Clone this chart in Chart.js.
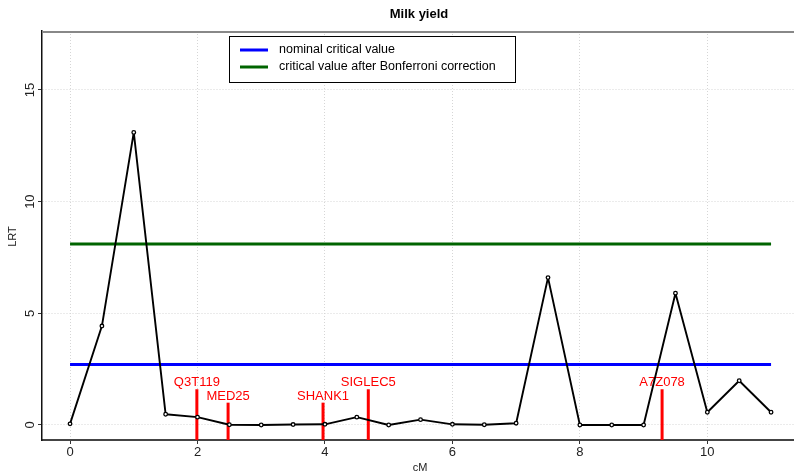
<!DOCTYPE html>
<html><head><meta charset="utf-8">
<style>html,body{margin:0;padding:0;background:#fff}canvas{display:block}</style>
<script src="https://cdn.jsdelivr.net/npm/chart.js@4.4.1/dist/chart.umd.min.js"></script>
</head><body>
<canvas id="c" width="794" height="475" style="width:794px;height:475px"></canvas>
<script>
const chartTitle = 'Milk yield';
const xTitle = 'cM';
const yTitle = 'LRT';
const positions = [0, 0.5, 1, 1.5, 2, 2.5, 3, 3.5, 4, 4.5, 5, 5.5, 6, 6.5, 7, 7.5, 8, 8.5, 9, 9.5, 10, 10.5, 11];
const lrt = [0.05, 4.43, 13.1, 0.48, 0.35, 0.01, 0.0, 0.02, 0.03, 0.35, 0.0, 0.24, 0.03, 0.01, 0.08, 6.6, 0.0, 0.0, 0.0, 5.9, 0.57, 1.98, 0.57];
const nominalCritical = 2.71;
const bonferroniCritical = 8.1;
const thresholdRange = [0, 11];
const markerNames = ['Q3T119', 'MED25', 'SHANK1', 'SIGLEC5', 'A7Z078'];
const markerPos = [1.99, 2.48, 3.97, 4.68, 9.29];
const markerHeight = [1.6, 1.0, 1.0, 1.6, 1.6];
const xTicks = [0, 2, 4, 6, 8, 10];
const yTicks = [0, 5, 10, 15];
const xMin = -0.44, xMax = 11.36, yMin = -0.672, yMax = 17.64;

const FONT = "'Liberation Sans', Arial, Helvetica, sans-serif";
Chart.defaults.font.family = FONT;

const datasets = [];
datasets.push({
  label: 'LRT', data: positions.map((x, i) => ({x: x, y: lrt[i]})),
  showLine: true, borderColor: '#000', borderWidth: 1.9, tension: 0, borderJoinStyle: 'round',
  pointRadius: 1.8, pointBorderWidth: 1.3, pointBackgroundColor: '#fff', pointBorderColor: '#000'
});
markerNames.forEach((n, i) => {
  datasets.push({
    label: n, data: [{x: markerPos[i], y: yMin}, {x: markerPos[i], y: markerHeight[i]}],
    showLine: true, borderColor: '#ff0000', borderWidth: 3, pointRadius: 0
  });
});
datasets.push({
  label: 'nominal critical value', legend: true,
  data: thresholdRange.map(x => ({x: x, y: nominalCritical})),
  showLine: true, borderColor: '#0000ff', borderWidth: 3, pointRadius: 0
});
datasets.push({
  label: 'critical value after Bonferroni correction', legend: true,
  data: thresholdRange.map(x => ({x: x, y: bonferroniCritical})),
  showLine: true, borderColor: '#006400', borderWidth: 3, pointRadius: 0
});

const decor = {
  id: 'decor',
  beforeDatasetsDraw(chart) {
    const c = chart.ctx, xs = chart.scales.x, ys = chart.scales.y;
    c.save();
    c.fillStyle = '#ff0000';
    c.font = '13px ' + FONT;
    c.textAlign = 'center';
    c.textBaseline = 'alphabetic';
    markerNames.forEach((n, i) => {
      c.fillText(n, xs.getPixelForValue(markerPos[i]), ys.getPixelForValue(markerHeight[i]) - 3);
    });
    c.restore();
  },
  afterDraw(chart) {
    const c = chart.ctx, a = chart.chartArea, xs = chart.scales.x, ys = chart.scales.y;
    c.save();
    c.strokeStyle = '#888';
    c.lineWidth = 2;
    c.beginPath(); c.moveTo(a.left, a.top + 1); c.lineTo(a.right, a.top + 1); c.stroke();
    c.fillStyle = '#000';
    c.font = 'bold 13px ' + FONT;
    c.textAlign = 'center'; c.textBaseline = 'middle';
    c.fillText(chartTitle, 419, 14);
    c.font = '11px ' + FONT;
    c.fillStyle = '#222';
    c.fillText(xTitle, 420, 468);
    c.save();
    c.translate(13, (a.top + a.bottom) / 2 + 1);
    c.rotate(-Math.PI / 2);
    c.fillText(yTitle, 0, 0);
    c.restore();
    c.font = '13px ' + FONT;
    yTicks.forEach(v => {
      c.save();
      c.translate(30, ys.getPixelForValue(v));
      c.rotate(-Math.PI / 2);
      c.fillText(String(v), 0, 0);
      c.restore();
    });
    const bx = 229.5, by = 36.5, bw = 286, bh = 46;
    c.fillStyle = '#fff';
    c.fillRect(bx, by, bw, bh);
    c.strokeStyle = '#000'; c.lineWidth = 1;
    c.strokeRect(bx, by, bw, bh);
    const legendSets = chart.data.datasets.filter(d => d.legend);
    c.font = '12.5px ' + FONT;
    c.textAlign = 'left'; c.textBaseline = 'middle';
    legendSets.forEach((d, i) => {
      const ly = 50 + i * 17;
      c.strokeStyle = d.borderColor; c.lineWidth = 3;
      c.beginPath(); c.moveTo(240, ly); c.lineTo(268, ly); c.stroke();
      c.fillStyle = '#000';
      c.fillText(d.label, 279, ly);
    });
    c.restore();
  }
};

new Chart(document.getElementById('c'), {
  type: 'scatter',
  data: {datasets: datasets},
  plugins: [decor],
  options: {
    responsive: false, animation: false, devicePixelRatio: 1,
    layout: {autoPadding: false, padding: {top: 31, left: 0, right: 0, bottom: 0}},
    plugins: {legend: {display: false}, tooltip: {enabled: false}, title: {display: false}},
    scales: {
      x: {
        type: 'linear', min: xMin, max: xMax,
        afterFit(s) { s.height = 35; s.paddingLeft = 0; s.paddingRight = 0; },
        afterBuildTicks(s) { s.ticks = xTicks.map(v => ({value: v})); },
        grid: {color: '#d6d6d6', lineWidth: 1, drawTicks: true, tickLength: 4, tickColor: '#333', tickWidth: 1},
        border: {display: true, color: '#444', width: 2, dash: [1, 2]},
        ticks: {color: '#222', font: {size: 13}, padding: 1, maxRotation: 0, autoSkip: false}
      },
      y: {
        type: 'linear', min: yMin, max: yMax,
        afterFit(s) { s.width = 42; s.paddingTop = 0; s.paddingBottom = 0; },
        afterBuildTicks(s) { s.ticks = yTicks.map(v => ({value: v})); },
        grid: {color: '#d6d6d6', lineWidth: 1, drawTicks: true, tickLength: 4, tickColor: '#333', tickWidth: 1},
        border: {display: true, color: '#111', width: 1.5, dash: [1, 2]},
        ticks: {display: false}
      }
    }
  }
});
</script>
</body></html>
